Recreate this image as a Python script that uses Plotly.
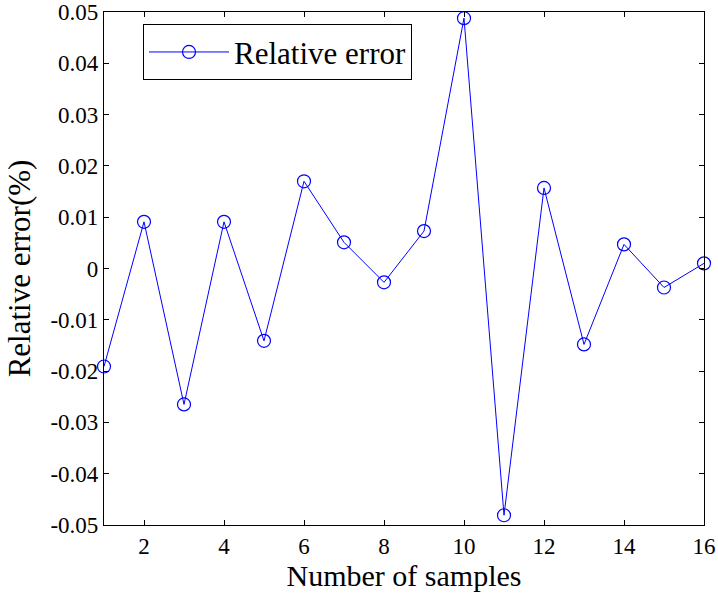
import plotly.graph_objects as go

# Sample index and relative error (%) for each sample
samples = list(range(1, 17))
relative_error = [-0.0191, 0.0091, -0.0265, 0.0091, -0.0141, 0.0170, 0.0051, -0.0027,
                  0.0073, 0.0488, -0.0481, 0.0157, -0.0148, 0.0047, -0.0037, 0.0010]

y_ticks = [-0.05, -0.04, -0.03, -0.02, -0.01, 0, 0.01, 0.02, 0.03, 0.04, 0.05]
y_tick_text = ["-0.05", "-0.04", "-0.03", "-0.02", "-0.01", "0", "0.01", "0.02", "0.03", "0.04", "0.05"]
x_ticks = [2, 4, 6, 8, 10, 12, 14, 16]

FONT = "Liberation Serif"

fig = go.Figure()
fig.add_trace(go.Scatter(
    x=samples, y=relative_error, mode="lines+markers", name="Relative error",
    line=dict(color="#0000FF", width=1),
    marker=dict(symbol="circle-open", size=13, color="#0000FF", line=dict(width=1.2)),
    cliponaxis=False,
))

axis_common = dict(
    showline=True, linecolor="black", linewidth=1.2, mirror="ticks",
    ticks="inside", ticklen=5, tickwidth=1, tickcolor="black",
    showgrid=False, zeroline=False, automargin=False,
    ticklabeloverflow="allow",
    tickfont=dict(family=FONT, size=23, color="black"),
)

fig.update_xaxes(range=[1, 16.00001], tickvals=x_ticks,
                 title=dict(text="Number of samples", font=dict(family=FONT, size=30, color="black"), standoff=6),
                 **axis_common)
fig.update_yaxes(range=[-0.05000001, 0.05000001], tickvals=y_ticks, ticktext=y_tick_text,
                 title=dict(text="Relative error(%)", font=dict(family=FONT, size=31, color="black"), standoff=10),
                 **axis_common)

fig.update_layout(
    width=718, height=598,
    margin=dict(l=104, r=14, t=12, b=73),
    paper_bgcolor="white", plot_bgcolor="white",
    font=dict(family=FONT, color="black"),
    showlegend=True,
    legend=dict(x=0.065, y=0.976, xanchor="left", yanchor="top",
                bgcolor="white", bordercolor="black", borderwidth=1,
                font=dict(family=FONT, size=31, color="black"),
                itemwidth=80, tracegroupgap=0),
)

fig.write_html("out.html")
